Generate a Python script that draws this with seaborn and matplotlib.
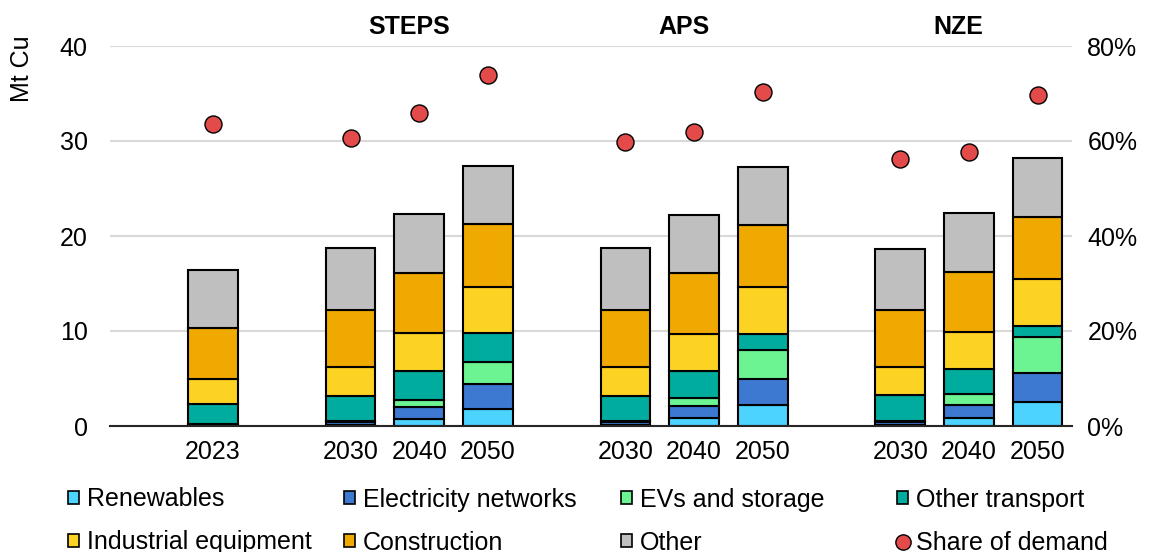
import pandas as pd
import numpy as np
import seaborn as sns
import matplotlib.pyplot as plt
from matplotlib.patches import Patch
from matplotlib.lines import Line2D
from matplotlib.ticker import PercentFormatter
import matplotlib.transforms as mtransforms

# Data (Mt Cu), one value per bar, bottom-to-top sector order
years = ["2023", "2030", "2040", "2050", "2030", "2040", "2050", "2030", "2040", "2050"]
slots = [0, 2, 3, 4, 6, 7, 8, 10, 11, 12]   # bar slots on the category axis (gaps between scenarios)
scenarios = ["STEPS", "APS", "NZE"]
scenario_slots = [3, 7, 11]

renewables = [0.02, 0.10, 0.77, 1.75, 0.10, 0.84, 2.18, 0.10, 0.88, 2.49]
electricity_networks = [0.12, 0.36, 1.20, 2.71, 0.36, 1.26, 2.82, 0.36, 1.30, 3.06]
evs_storage = [0.04, 0.10, 0.77, 2.31, 0.10, 0.88, 2.96, 0.10, 1.19, 3.78]
other_transport = [2.17, 2.64, 3.06, 2.99, 2.63, 2.77, 1.76, 2.67, 2.59, 1.23]
industrial_equipment = [2.60, 3.00, 3.95, 4.90, 2.99, 3.90, 4.94, 2.97, 3.90, 4.94]
construction = [5.40, 6.00, 6.35, 6.64, 6.02, 6.42, 6.54, 5.97, 6.39, 6.53]
other = [6.05, 6.50, 6.20, 6.10, 6.50, 6.13, 6.10, 6.50, 6.15, 6.17]
share_of_demand = [63.5, 60.6, 66.0, 73.9, 59.7, 61.8, 70.3, 56.2, 57.7, 69.7]

sectors = ["Renewables", "Electricity networks", "EVs and storage", "Other transport",
           "Industrial equipment", "Construction", "Other"]
colors = ["#4DD3FF", "#3D78D1", "#6BF491", "#00AC9E", "#FDD323", "#F0A900", "#BFBFBF"]
dot_color = "#E34A4A"

# long format for seaborn
series = [renewables, electricity_networks, evs_storage, other_transport,
          industrial_equipment, construction, other]
df = pd.concat([pd.DataFrame({"pos": slots, "value": vals, "sector": name})
                for name, vals in zip(sectors, series)], ignore_index=True)

sns.set_theme(style="white")
plt.rcParams["font.family"] = ["Liberation Sans", "DejaVu Sans"]
plt.rcParams["text.color"] = "black"
FS = 18

fig = plt.figure(figsize=(11.53, 5.52), dpi=100)
ax = fig.add_axes([110 / 1153, 1 - 426 / 552, 962 / 1153, 380 / 552])

# histplot stacks the first hue level on top, so reverse the order
sns.histplot(data=df, x="pos", weights="value", hue="sector",
             hue_order=sectors[::-1], palette=dict(zip(sectors, colors)),
             multiple="stack", discrete=True, shrink=0.72, alpha=1,
             edgecolor="black", linewidth=1.5, legend=False, ax=ax)
# hide the empty bins between scenario groups
for p in ax.patches:
    if p.get_height() == 0:
        p.set_visible(False)

ax.set_xlim(-1.5, 12.5)
ax.set_ylim(0, 40)
ax.set_yticks(range(0, 41, 10))
ax.set_xticks(slots)
ax.set_xticklabels(years)
ax.set_xlabel("")
ax.set_ylabel("")
ax.grid(axis="y", color="#D9D9D9", linewidth=1.5)
ax.set_axisbelow(True)
for s in ["left", "right", "top"]:
    ax.spines[s].set_visible(False)
ax.spines["bottom"].set_color("#262626")
ax.spines["bottom"].set_linewidth(1.5)
ax.tick_params(axis="y", length=0, pad=16, labelsize=FS, labelcolor="black")
ax.tick_params(axis="x", length=0, pad=10, labelsize=FS, labelcolor="black")
ax.text(-0.0915, 0.94, "Mt Cu", transform=ax.transAxes, rotation=90,
        ha="center", va="center", fontsize=FS)

# share of demand on secondary axis
ax2 = ax.twinx()
sns.scatterplot(x=slots, y=share_of_demand, ax=ax2, color=dot_color, s=150,
                edgecolor="black", linewidth=1, zorder=3)
ax2.set_ylim(0, 80)
ax2.set_yticks(range(0, 81, 20))
ax2.yaxis.set_major_formatter(PercentFormatter(decimals=0))
ax2.tick_params(axis="y", length=0, pad=11, labelsize=FS, labelcolor="black")
for s in ax2.spines.values():
    s.set_visible(False)
ax2.grid(False)
ax2.set_xlim(-1.5, 12.5)

# scenario titles
trans = mtransforms.blended_transform_factory(ax.transData, ax.transAxes)
for name, pos in zip(scenarios, scenario_slots):
    ax.text(pos - 0.15, 1.05, name, transform=trans, ha="center", va="center",
            fontsize=FS, fontweight="bold")

# legend: one small legend per column
handles = [Patch(facecolor=c, edgecolor="black", linewidth=1.2) for c in colors]
handles.append(Line2D([], [], marker="o", linestyle="none", markersize=11,
                      markerfacecolor=dot_color, markeredgecolor="black"))
labels = sectors + ["Share of demand"]
columns = [[0, 4], [1, 5], [2, 6], [3, 7]]
col_x = [68, 344, 621, 897]
for idx, x in zip(columns, col_x):
    fig.legend([handles[i] for i in idx], [labels[i] for i in idx],
               loc="center left", bbox_to_anchor=(x / 1153, 1 - 521 / 552),
               frameon=False, fontsize=FS, handlelength=0.45, handleheight=0.45,
               handletextpad=0.3, borderpad=0, borderaxespad=0, labelspacing=0.76,
               labelcolor="black")

fig.savefig("out.png", dpi=100)
